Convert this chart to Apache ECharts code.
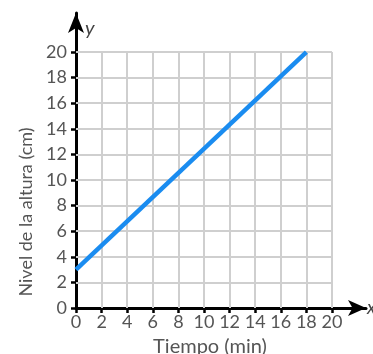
<!DOCTYPE html>
<html>
<head>
<meta charset="utf-8">
<script src="https://cdn.jsdelivr.net/npm/echarts@6/dist/echarts.min.js"></script>
<style>
  html, body { margin: 0; padding: 0; background: #fff; }
  #chart { width: 373px; height: 354px; }
</style>
</head>
<body>
<div id="chart"></div>
<script>
// Water level over time
const tiempo = [0, 18];
const nivel = [3, 20];
const xTicks = [0, 2, 4, 6, 8, 10, 12, 14, 16, 18, 20];
const yTicks = [0, 2, 4, 6, 8, 10, 12, 14, 16, 18, 20];

const FONT = 'Lato';
const chart = echarts.init(document.getElementById('chart'));

const xMax = xTicks[xTicks.length - 1];
const yMax = yTicks[yTicks.length - 1];

// light grid cells, bounded to the labelled range
const gridLines = [];
xTicks.filter(v => v > 0).forEach(v => gridLines.push([{ coord: [v, 0] }, { coord: [v, yMax] }]));
yTicks.filter(v => v > 0).forEach(v => gridLines.push([{ coord: [0, v] }, { coord: [xMax, v] }]));

chart.setOption({
  animation: false,
  grid: { left: 76, right: 7, top: 13, bottom: 46, containLabel: false, outerBoundsMode: 'none' },
  xAxis: {
    type: 'value', min: 0, max: 22.66,
    name: 'x', nameLocation: 'end', nameGap: 1,
    nameTextStyle: { fontFamily: FONT, fontStyle: 'italic', fontSize: 19, color: '#444', padding: [0, 0, 2, 0] },
    axisLine: { show: true, lineStyle: { color: '#000', width: 3 }, symbol: ['none', 'arrow'], symbolSize: [12, 18] },
    axisTick: { show: true, customValues: xTicks, length: 5, inside: false, lineStyle: { color: '#000', width: 2.5 } },
    axisLabel: { customValues: xTicks, margin: 5, fontFamily: FONT, fontSize: 18, color: '#555' },
    splitLine: { show: false }
  },
  yAxis: {
    type: 'value', min: 0, max: 23.05,
    name: 'y', nameLocation: 'end', nameGap: 0,
    nameTextStyle: { fontFamily: FONT, fontStyle: 'italic', fontSize: 20, color: '#444', align: 'left', padding: [0, 0, -26, 9] },
    axisLine: { show: true, lineStyle: { color: '#000', width: 3 }, symbol: ['none', 'arrow'], symbolSize: [12, 20] },
    axisTick: { show: true, customValues: yTicks, length: 5, lineStyle: { color: '#000', width: 2.5 } },
    axisLabel: { customValues: yTicks, margin: 9, fontFamily: FONT, fontSize: 18, color: '#555' },
    splitLine: { show: false }
  },
  graphic: [
    {
      type: 'text', x: 26, y: 212, rotation: Math.PI / 2,
      style: { text: 'Nivel de la altura (cm)', x: 0, y: 0, fontFamily: FONT, fontSize: 18, fill: '#555', align: 'center', verticalAlign: 'middle' }
    },
    {
      type: 'text', x: 210, y: 347,
      style: { text: 'Tiempo (min)', x: 0, y: 0, fontFamily: FONT, fontSize: 20, fill: '#555', align: 'center', verticalAlign: 'middle' }
    }
  ],
  series: [
    {
      type: 'line', data: [], silent: true,
      markLine: {
        silent: true, symbol: ['none', 'none'], label: { show: false },
        lineStyle: { color: '#cfcfcf', width: 2, type: 'solid' },
        data: gridLines, animation: false, z: 1
      }
    },
    {
      type: 'line',
      data: tiempo.map((t, i) => [t, nivel[i]]),
      showSymbol: false,
      lineStyle: { color: '#1a8cf0', width: 4.5 },
      z: 5
    }
  ]
});
</script>
</body>
</html>
